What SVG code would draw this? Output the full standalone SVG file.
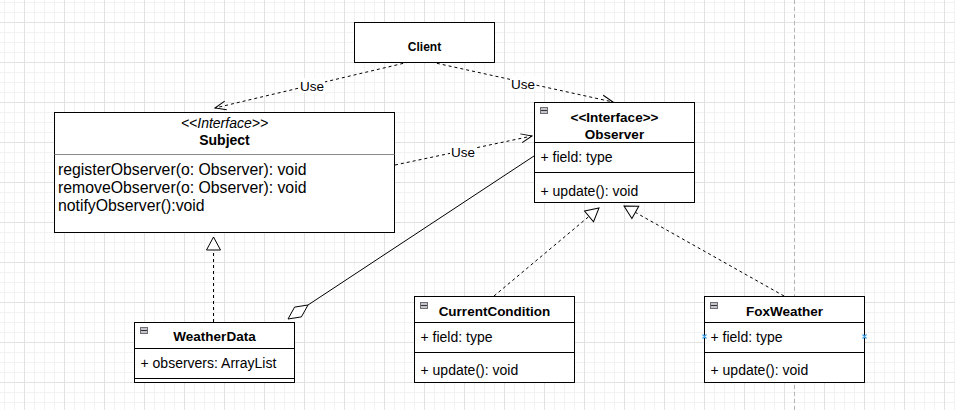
<svg xmlns="http://www.w3.org/2000/svg" width="955" height="410" viewBox="0 0 955 410">
<style>
text{font-family:"Liberation Sans",Arial,Helvetica,sans-serif;fill:#000}
.box{fill:#fff;stroke:#000;stroke-width:1}
.sep{stroke:#000;stroke-width:1}
.t{font-size:13.5px;font-weight:bold;text-anchor:middle}
.m{font-size:14px}
.big{font-size:15.8px}
.dash{fill:none;stroke:#000;stroke-width:1;stroke-dasharray:3 3}
.solid{fill:none;stroke:#000;stroke-width:1}
.lbl{font-size:13.5px;text-anchor:middle}
.lblbg{fill:#fff}
.ico{fill:#c4c4ca;stroke:#6e6e76;stroke-width:1}
</style>
<defs>
<pattern id="grid" x="4" y="2" width="40" height="40" patternUnits="userSpaceOnUse">
<path d="M0.5,0V40M10.5,0V40M30.5,0V40M0,0.5H40M0,10.5H40M0,30.5H40" stroke="#f2f2f2" stroke-width="1"/>
<path d="M20.5,0V40M0,20.5H40" stroke="#e2e2e2" stroke-width="1"/>
</pattern>
<marker id="open" markerUnits="userSpaceOnUse" markerWidth="14" markerHeight="12" refX="11" refY="5" orient="auto" overflow="visible">
<path d="M0,0.5 L11,5 L0,9.5" fill="none" stroke="#000" stroke-width="1" stroke-dasharray="none"/>
</marker>
<marker id="tri" markerUnits="userSpaceOnUse" markerWidth="16" markerHeight="16" refX="13" refY="7" orient="auto" overflow="visible">
<path d="M0,0 L13,7 L0,14 Z" fill="#fff" stroke="#000" stroke-width="1" stroke-dasharray="none"/>
</marker>
</defs>
<rect width="955" height="410" fill="#fff"/>
<rect width="955" height="410" fill="url(#grid)"/>
<line x1="794.5" y1="0" x2="794.5" y2="410" stroke="#b4b4b4" stroke-width="1" stroke-dasharray="4 3"/>

<g id="connectors">
<path class="dash" d="M409,62 L215,108" marker-end="url(#open)"/>
<path class="dash" d="M431,62 L613,102" marker-end="url(#open)"/>
<path class="dash" d="M395,165 L532,136" marker-end="url(#open)"/>
<path class="dash" d="M213.5,322 L213.5,237" marker-end="url(#tri)"/>
<path class="dash" d="M494,296 L599,208" marker-end="url(#tri)"/>
<path class="dash" d="M784,296 L624,206" marker-end="url(#tri)"/>
<path class="solid" d="M308,305 L534,156"/>
<polygon points="288,319 294.6,307.1 308,305 301.4,316.9" fill="#fff" stroke="#000" stroke-width="1"/>
<rect class="lblbg" x="299" y="78" width="26" height="15"/>
<text class="lbl" x="312" y="90.5">Use</text>
<rect class="lblbg" x="510" y="76" width="26" height="15"/>
<text class="lbl" x="523" y="88.5">Use</text>
<rect class="lblbg" x="450" y="144" width="26" height="15"/>
<text class="lbl" x="463" y="156.5">Use</text>
</g>

<g id="client">
<rect class="box" x="354.5" y="22.5" width="140" height="40"/>
<text x="424.5" y="51" style="font-size:12px;font-weight:bold;text-anchor:middle">Client</text>
</g>

<g id="subject">
<rect class="box" x="54.5" y="112.5" width="340" height="120"/>
<line x1="54.5" y1="154.5" x2="394.5" y2="154.5" stroke="#8a8a8a" stroke-width="1"/>
<text x="224.5" y="128" style="font-size:14px;font-style:italic;text-anchor:middle">&lt;&lt;Interface&gt;&gt;</text>
<text x="224.5" y="144.5" style="font-size:14px;font-weight:bold;text-anchor:middle">Subject</text>
<text class="big" x="58" y="174.5">registerObserver(o: Observer): void</text>
<text class="big" x="58" y="192.5">removeObserver(o: Observer): void</text>
<text class="big" x="58" y="211">notifyObserver():void</text>
</g>

<g id="observer">
<rect class="box" x="534.5" y="102.5" width="160" height="100"/>
<line class="sep" x1="534.5" y1="142.5" x2="694.5" y2="142.5"/>
<line class="sep" x1="534.5" y1="172.5" x2="694.5" y2="172.5"/>
<rect class="ico" x="540.5" y="107.5" width="7" height="6"/>
<line x1="541" y1="110.5" x2="547" y2="110.5" stroke="#333" stroke-width="1"/>
<text class="t" x="614.5" y="122">&lt;&lt;Interface&gt;&gt;</text>
<text class="t" x="614.5" y="139">Observer</text>
<text class="m" x="540.5" y="161.5">+ field: type</text>
<text class="m" x="540.5" y="195.5">+ update(): void</text>
</g>

<g id="weatherdata">
<rect class="box" x="134.5" y="322.5" width="160" height="60"/>
<line class="sep" x1="134.5" y1="348.5" x2="294.5" y2="348.5"/>
<line class="sep" x1="134.5" y1="378.5" x2="294.5" y2="378.5"/>
<rect class="ico" x="140.5" y="327.5" width="7" height="6"/>
<line x1="141" y1="330.5" x2="147" y2="330.5" stroke="#333" stroke-width="1"/>
<text class="t" x="214.5" y="341">WeatherData</text>
<text class="m" x="140.5" y="367.5">+ observers: ArrayList</text>
</g>

<g id="currentcondition">
<rect class="box" x="414.5" y="296.5" width="160" height="86"/>
<line class="sep" x1="414.5" y1="322.5" x2="574.5" y2="322.5"/>
<line class="sep" x1="414.5" y1="352.5" x2="574.5" y2="352.5"/>
<rect class="ico" x="420.5" y="302.5" width="7" height="6"/>
<line x1="421" y1="305.5" x2="427" y2="305.5" stroke="#333" stroke-width="1"/>
<text class="t" x="494.5" y="315.5">CurrentCondition</text>
<text class="m" x="420.5" y="341.5">+ field: type</text>
<text class="m" x="420.5" y="375">+ update(): void</text>
</g>

<g id="foxweather">
<rect class="box" x="704.5" y="296.5" width="160" height="86"/>
<line class="sep" x1="704.5" y1="322.5" x2="864.5" y2="322.5"/>
<line class="sep" x1="704.5" y1="352.5" x2="864.5" y2="352.5"/>
<rect class="ico" x="710.5" y="302.5" width="7" height="6"/>
<line x1="711" y1="305.5" x2="717" y2="305.5" stroke="#333" stroke-width="1"/>
<text class="t" x="784.5" y="315.5">FoxWeather</text>
<text class="m" x="710.5" y="341.5">+ field: type</text>
<text class="m" x="710.5" y="375">+ update(): void</text>
<path d="M702.5,334.5 L706.5,338.5 M706.5,334.5 L702.5,338.5 M862.5,334.5 L866.5,338.5 M866.5,334.5 L862.5,338.5" stroke="#3aa0e8" stroke-width="1.2" fill="none"/>
</g>
</svg>
